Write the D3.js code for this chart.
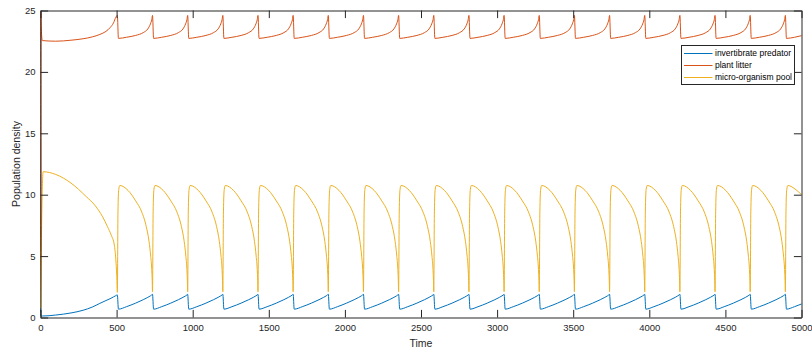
<!DOCTYPE html>
<html>
<head>
<meta charset="utf-8">
<script src="https://cdn.jsdelivr.net/npm/d3@7"></script>
<style>
  html, body { margin: 0; padding: 0; background: #fff; }
  svg { display: block; font-family: "Liberation Sans", Arial, Helvetica, sans-serif; }
</style>
</head>
<body>
<svg id="chart" width="812" height="353"></svg>
<script>
// ---------- DATA ----------
const xTicks = [0, 500, 1000, 1500, 2000, 2500, 3000, 3500, 4000, 4500, 5000];
const yTicks = [0, 5, 10, 15, 20, 25];
const seriesNames = ["invertibrate predator", "plant litter", "micro-organism pool"];

// time points shared by predator and plant litter
const timeRB = [
  0,1,4,12,100,200,280,340,390,430,457,480,495,
  505,512,565,625,675,705,722,731,
  736,743,796,856,906,936,953,962,
  967,974,1027,1087,1137,1167,1184,1193,
  1198,1205,1258,1318,1368,1398,1415,1424,
  1429,1436,1489,1549,1599,1629,1646,1655,
  1660,1667,1720,1780,1830,1860,1877,1886,
  1891,1898,1951,2011,2061,2091,2108,2117,
  2122,2129,2182,2242,2292,2322,2339,2348,
  2353,2360,2413,2473,2523,2553,2570,2579,
  2584,2591,2644,2704,2754,2784,2801,2810,
  2815,2822,2875,2935,2985,3015,3032,3041,
  3046,3053,3106,3166,3216,3246,3263,3272,
  3277,3284,3337,3397,3447,3477,3494,3503,
  3508,3515,3568,3628,3678,3708,3725,3734,
  3739,3746,3799,3859,3909,3939,3956,3965,
  3970,3977,4030,4090,4140,4170,4187,4196,
  4201,4208,4261,4321,4371,4401,4418,4427,
  4432,4439,4492,4552,4602,4632,4649,4658,
  4663,4670,4723,4783,4833,4863,4880,4889,
  4894,4901,4954,5000
];
const predator = [
  0.75,0.14,0.12,0.12,0.2,0.37,0.59,0.85,1.15,1.38,1.53,1.68,1.78,
  1.84,0.68,0.88,1.17,1.45,1.64,1.76,1.84,
  1.89,0.68,0.88,1.17,1.45,1.64,1.76,1.84,
  1.89,0.68,0.88,1.17,1.45,1.64,1.76,1.84,
  1.89,0.68,0.88,1.17,1.45,1.64,1.76,1.84,
  1.89,0.68,0.88,1.17,1.45,1.64,1.76,1.84,
  1.89,0.68,0.88,1.17,1.45,1.64,1.76,1.84,
  1.89,0.68,0.88,1.17,1.45,1.64,1.76,1.84,
  1.89,0.68,0.88,1.17,1.45,1.64,1.76,1.84,
  1.89,0.68,0.88,1.17,1.45,1.64,1.76,1.84,
  1.89,0.68,0.88,1.17,1.45,1.64,1.76,1.84,
  1.89,0.68,0.88,1.17,1.45,1.64,1.76,1.84,
  1.89,0.68,0.88,1.17,1.45,1.64,1.76,1.84,
  1.89,0.68,0.88,1.17,1.45,1.64,1.76,1.84,
  1.89,0.68,0.88,1.17,1.45,1.64,1.76,1.84,
  1.89,0.68,0.88,1.17,1.45,1.64,1.76,1.84,
  1.89,0.68,0.88,1.17,1.45,1.64,1.76,1.84,
  1.89,0.68,0.88,1.17,1.45,1.64,1.76,1.84,
  1.89,0.68,0.88,1.17,1.45,1.64,1.76,1.84,
  1.89,0.68,0.88,1.17,1.45,1.64,1.76,1.84,
  1.89,0.68,0.88,1.1
];
const litter = [
  0.8,24.9,23.8,22.55,22.5,22.58,22.7,22.85,23.05,23.3,23.6,24.0,24.45,
  24.6,22.73,22.82,22.97,23.2,23.5,23.9,24.25,
  24.6,22.73,22.82,22.97,23.2,23.5,23.9,24.25,
  24.6,22.73,22.82,22.97,23.2,23.5,23.9,24.25,
  24.6,22.73,22.82,22.97,23.2,23.5,23.9,24.25,
  24.6,22.73,22.82,22.97,23.2,23.5,23.9,24.25,
  24.6,22.73,22.82,22.97,23.2,23.5,23.9,24.25,
  24.6,22.73,22.82,22.97,23.2,23.5,23.9,24.25,
  24.6,22.73,22.82,22.97,23.2,23.5,23.9,24.25,
  24.6,22.73,22.82,22.97,23.2,23.5,23.9,24.25,
  24.6,22.73,22.82,22.97,23.2,23.5,23.9,24.25,
  24.6,22.73,22.82,22.97,23.2,23.5,23.9,24.25,
  24.6,22.73,22.82,22.97,23.2,23.5,23.9,24.25,
  24.6,22.73,22.82,22.97,23.2,23.5,23.9,24.25,
  24.6,22.73,22.82,22.97,23.2,23.5,23.9,24.25,
  24.6,22.73,22.82,22.97,23.2,23.5,23.9,24.25,
  24.6,22.73,22.82,22.97,23.2,23.5,23.9,24.25,
  24.6,22.73,22.82,22.97,23.2,23.5,23.9,24.25,
  24.6,22.73,22.82,22.97,23.2,23.5,23.9,24.25,
  24.6,22.73,22.82,22.97,23.2,23.5,23.9,24.25,
  24.6,22.73,22.82,22.95
];

// time points of the micro-organism pool
const timePool = [
  0,17,100,200,300,360,408,440,465,485,495,501,
  505,509,514,521,575,625,665,695,713,724,731,734,
  736,740,745,752,806,856,896,926,944,955,962,965,
  967,971,976,983,1037,1087,1127,1157,1175,1186,1193,1196,
  1198,1202,1207,1214,1268,1318,1358,1388,1406,1417,1424,1427,
  1429,1433,1438,1445,1499,1549,1589,1619,1637,1648,1655,1658,
  1660,1664,1669,1676,1730,1780,1820,1850,1868,1879,1886,1889,
  1891,1895,1900,1907,1961,2011,2051,2081,2099,2110,2117,2120,
  2122,2126,2131,2138,2192,2242,2282,2312,2330,2341,2348,2351,
  2353,2357,2362,2369,2423,2473,2513,2543,2561,2572,2579,2582,
  2584,2588,2593,2600,2654,2704,2744,2774,2792,2803,2810,2813,
  2815,2819,2824,2831,2885,2935,2975,3005,3023,3034,3041,3044,
  3046,3050,3055,3062,3116,3166,3206,3236,3254,3265,3272,3275,
  3277,3281,3286,3293,3347,3397,3437,3467,3485,3496,3503,3506,
  3508,3512,3517,3524,3578,3628,3668,3698,3716,3727,3734,3737,
  3739,3743,3748,3755,3809,3859,3899,3929,3947,3958,3965,3968,
  3970,3974,3979,3986,4040,4090,4130,4160,4178,4189,4196,4199,
  4201,4205,4210,4217,4271,4321,4361,4391,4409,4420,4427,4430,
  4432,4436,4441,4448,4502,4552,4592,4622,4640,4651,4658,4661,
  4663,4667,4672,4679,4733,4783,4823,4853,4871,4882,4889,4892,
  4894,4898,4903,4910,4964,5000
];
const pool = [
  0.8,11.87,11.65,10.95,9.85,9.1,8.2,7.4,6.7,5.9,4.7,3.4,
  2.05,8.6,10.4,10.75,10.35,9.5,8.6,7.4,6.2,5.0,3.9,3.0,
  2.1,8.6,10.4,10.75,10.35,9.5,8.6,7.4,6.2,5.0,3.9,3.0,
  2.1,8.6,10.4,10.75,10.35,9.5,8.6,7.4,6.2,5.0,3.9,3.0,
  2.1,8.6,10.4,10.75,10.35,9.5,8.6,7.4,6.2,5.0,3.9,3.0,
  2.1,8.6,10.4,10.75,10.35,9.5,8.6,7.4,6.2,5.0,3.9,3.0,
  2.1,8.6,10.4,10.75,10.35,9.5,8.6,7.4,6.2,5.0,3.9,3.0,
  2.1,8.6,10.4,10.75,10.35,9.5,8.6,7.4,6.2,5.0,3.9,3.0,
  2.1,8.6,10.4,10.75,10.35,9.5,8.6,7.4,6.2,5.0,3.9,3.0,
  2.1,8.6,10.4,10.75,10.35,9.5,8.6,7.4,6.2,5.0,3.9,3.0,
  2.1,8.6,10.4,10.75,10.35,9.5,8.6,7.4,6.2,5.0,3.9,3.0,
  2.1,8.6,10.4,10.75,10.35,9.5,8.6,7.4,6.2,5.0,3.9,3.0,
  2.1,8.6,10.4,10.75,10.35,9.5,8.6,7.4,6.2,5.0,3.9,3.0,
  2.1,8.6,10.4,10.75,10.35,9.5,8.6,7.4,6.2,5.0,3.9,3.0,
  2.1,8.6,10.4,10.75,10.35,9.5,8.6,7.4,6.2,5.0,3.9,3.0,
  2.1,8.6,10.4,10.75,10.35,9.5,8.6,7.4,6.2,5.0,3.9,3.0,
  2.1,8.6,10.4,10.75,10.35,9.5,8.6,7.4,6.2,5.0,3.9,3.0,
  2.1,8.6,10.4,10.75,10.35,9.5,8.6,7.4,6.2,5.0,3.9,3.0,
  2.1,8.6,10.4,10.75,10.35,9.5,8.6,7.4,6.2,5.0,3.9,3.0,
  2.1,8.6,10.4,10.75,10.35,9.5,8.6,7.4,6.2,5.0,3.9,3.0,
  2.1,8.6,10.4,10.75,10.4,10.0
];

// ---------- DRAWING ----------
const colors = ["#0072BD", "#D95319", "#EDB120"];
const axisColor = "#262626";
const plot = { left: 40.5, right: 801.5, top: 10.5, bottom: 317.5 };
const tickLen = 7.6;

const svg = d3.select("#chart");
const x = d3.scaleLinear().domain([0, 5000]).range([plot.left, plot.right]);
const y = d3.scaleLinear().domain([0, 25]).range([plot.bottom, plot.top]);

const series = [
  { name: seriesNames[0], t: timeRB, v: predator, color: colors[0] },
  { name: seriesNames[1], t: timeRB, v: litter, color: colors[1] },
  { name: seriesNames[2], t: timePool, v: pool, color: colors[2] }
];

const line = d3.line()
  .x(d => x(d[0]))
  .y(d => y(d[1]))
  .curve(d3.curveMonotoneX);

const gLines = svg.append("g");
series.forEach(s => {
  const pts = s.t.map((t, i) => [t, s.v[i]]);
  gLines.append("path")
    .attr("d", line(pts))
    .attr("fill", "none")
    .attr("stroke", s.color)
    .attr("stroke-width", 1)
    .attr("stroke-linejoin", "round");
});

function styleAxis(g, fontSize) {
  g.select(".domain").attr("stroke", axisColor).attr("stroke-width", 1);
  g.selectAll(".tick line").attr("stroke", axisColor).attr("stroke-width", 1);
  g.selectAll(".tick text").attr("fill", axisColor)
    .style("font-size", fontSize + "px")
    .style("font-family", "'Liberation Sans', Arial, sans-serif");
}

const fs = 9.5;
// bottom axis
const gx = svg.append("g").attr("transform", `translate(0,${plot.bottom})`)
  .call(d3.axisBottom(x).tickValues(xTicks).tickFormat(d3.format("d"))
    .tickSizeInner(-tickLen).tickSizeOuter(0).tickPadding(7.2));
styleAxis(gx, fs);
// top axis (no labels)
const gxt = svg.append("g").attr("transform", `translate(0,${plot.top})`)
  .call(d3.axisTop(x).tickValues(xTicks).tickFormat("")
    .tickSizeInner(-tickLen).tickSizeOuter(0));
styleAxis(gxt, fs);
// left axis
const gy = svg.append("g").attr("transform", `translate(${plot.left},0)`)
  .call(d3.axisLeft(y).tickValues(yTicks).tickFormat(d3.format("d"))
    .tickSizeInner(-tickLen).tickSizeOuter(0).tickPadding(5));
styleAxis(gy, fs);
// right axis (no labels)
const gyr = svg.append("g").attr("transform", `translate(${plot.right},0)`)
  .call(d3.axisRight(y).tickValues(yTicks).tickFormat("")
    .tickSizeInner(-tickLen).tickSizeOuter(0));
styleAxis(gyr, fs);

// axis labels
svg.append("text")
  .attr("x", (plot.left + plot.right) / 2)
  .attr("y", 347)
  .attr("text-anchor", "middle")
  .attr("fill", axisColor)
  .style("font-size", "10.5px")
  .text("Time");
svg.append("text")
  .attr("transform", `translate(19.5,${(plot.top + plot.bottom) / 2}) rotate(-90)`)
  .attr("text-anchor", "middle")
  .attr("fill", axisColor)
  .style("font-size", "10.5px")
  .text("Population density");

// legend
const leg = { x: 681.5, y: 45.5, w: 113, h: 39 };
const gl = svg.append("g");
gl.append("rect")
  .attr("x", leg.x).attr("y", leg.y).attr("width", leg.w).attr("height", leg.h)
  .attr("fill", "#fff").attr("stroke", axisColor).attr("stroke-width", 1);
series.forEach((s, i) => {
  const cy = leg.y + 8 + i * 12;
  gl.append("line")
    .attr("x1", leg.x + 2.5).attr("x2", leg.x + 31)
    .attr("y1", cy).attr("y2", cy)
    .attr("stroke", s.color).attr("stroke-width", 1);
  gl.append("text")
    .attr("x", leg.x + 33.5).attr("y", cy)
    .attr("dy", "0.35em")
    .attr("fill", "#000")
    .style("font-size", "8.5px")
    .text(s.name);
});
</script>
</body>
</html>
